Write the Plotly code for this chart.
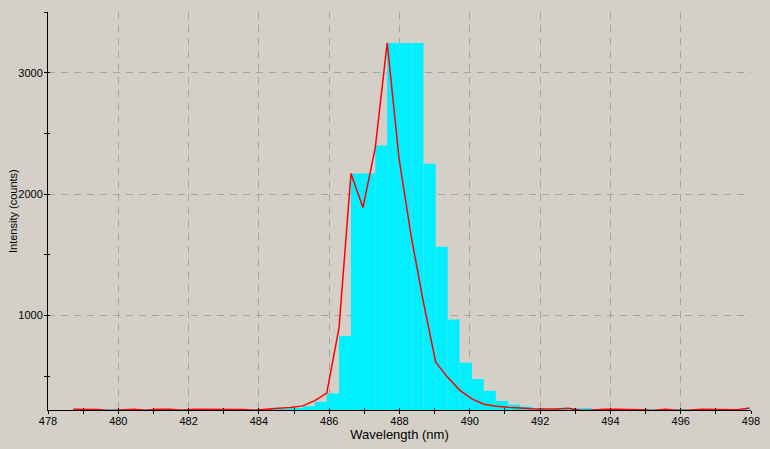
import numpy as np
import plotly.graph_objects as go

# ---- data ----
wavelength_nm = [
    478.72, 479.06, 479.41, 479.75, 480.09, 480.44, 480.78, 481.12, 481.47, 481.81,
    482.16, 482.50, 482.84, 483.19, 483.53, 483.87, 484.22, 484.56, 484.90, 485.25,
    485.59, 485.93, 486.28, 486.62, 486.96, 487.31, 487.65, 487.99, 488.34, 488.68,
    489.03, 489.37, 489.71, 490.06, 490.40, 490.74, 491.09, 491.43, 491.77, 492.12,
    492.46, 492.80, 493.15, 493.49, 493.83, 494.18, 494.52, 494.86, 495.21, 495.55,
    495.90, 496.24, 496.58, 496.93, 497.27, 497.61, 497.96,
]

line_counts = [
    228, 228, 226, 216, 222, 228, 218, 228, 228, 218,
    228, 228, 228, 228, 226, 218, 229, 235, 242, 255,
    298, 360, 900, 2170, 1889, 2380, 3245, 2285, 1640, 1110,
    615, 490, 385, 312, 268, 252, 243, 236, 232, 229,
    229, 236, 218, 220, 228, 228, 228, 224, 216, 228,
    218, 218, 228, 228, 228, 224, 238,
]

bar_counts = [
    227, 227, 227, 227, 227, 227, 227, 227, 227, 227,
    227, 227, 227, 227, 227, 227, 228, 230, 238, 253,
    289, 358, 830, 2170, 2170, 2400, 3245, 3245, 3245, 2250,
    1565, 967, 610, 476, 379, 295, 264, 248, 234, 228,
    232, 236, 236, 226, 226, 226, 226, 228, 226, 226,
    228, 226, 226, 226, 228, 226, 226,
]

x_range = [478, 498]
y_range = [221, 3500]
x_major_step = 2
x_minor_step = 1
y_major_step = 1000
y_minor_step = 500

x_title = "Wavelength (nm)"
y_title = "Intensity (counts)"

# ---- figure ----
W, H = 770, 449
M = dict(l=48, r=19, t=12, b=39)
bg = "#D4D0C8"
grid = "#A4A4A4"
font = dict(family="Liberation Sans, Arial, sans-serif", size=11, color="black")

widths = np.diff(wavelength_nm).tolist()
widths.append(widths[-1])

fig = go.Figure()
fig.add_bar(
    x=wavelength_nm, y=bar_counts, width=widths, offset=0,
    marker=dict(color="#00F0FF", line=dict(width=0)),
    hoverinfo="skip",
)
fig.add_scatter(
    x=wavelength_nm, y=line_counts, mode="lines",
    line=dict(color="#FF0000", width=1.5),
    hoverinfo="skip",
)
# empty trace for overlay axes that draw the inner half of the ticks
fig.add_scatter(x=[], y=[], xaxis="x2", yaxis="y2", hoverinfo="skip")

plot_w = W - M["l"] - M["r"]

fig.update_layout(
    width=W, height=H,
    margin=M,
    paper_bgcolor=bg, plot_bgcolor=bg,
    showlegend=False, font=font,
    xaxis=dict(
        range=x_range, tickmode="linear", tick0=x_range[0], dtick=x_major_step,
        ticks="outside", ticklen=3, tickcolor="black", tickwidth=1,
        ticklabelstandoff=-2,
        showline=True, linecolor="black", linewidth=1,
        showgrid=True, gridcolor=grid, gridwidth=1, griddash="7px,6px",
        zeroline=False,
        minor=dict(tick0=x_range[0], dtick=x_minor_step, ticks="outside",
                   ticklen=3, tickcolor="black", tickwidth=1, showgrid=False),
        title=dict(text=x_title, standoff=2),
        automargin=False, fixedrange=True,
    ),
    yaxis=dict(
        range=y_range, tickmode="linear", tick0=0, dtick=y_major_step,
        ticks="outside", ticklen=3, tickcolor="black", tickwidth=1,
        ticklabelstandoff=-1,
        showline=True, linecolor="black", linewidth=1,
        showgrid=True, gridcolor=grid, gridwidth=1, griddash="7px,6px",
        zeroline=False,
        minor=dict(tick0=0, dtick=y_minor_step, ticks="outside",
                   ticklen=3, tickcolor="black", tickwidth=1, showgrid=False),
        automargin=False, fixedrange=True,
    ),
    xaxis2=dict(
        range=x_range, overlaying="x", anchor="y2", tickmode="linear",
        tick0=x_range[0], dtick=x_minor_step, ticks="inside", ticklen=2,
        tickcolor="black", showticklabels=False, showgrid=False,
        showline=False, zeroline=False, fixedrange=True,
    ),
    yaxis2=dict(
        range=y_range, overlaying="y", anchor="x2", side="left", tickmode="linear",
        tick0=0, dtick=y_minor_step, ticks="inside", ticklen=2,
        tickcolor="black", showticklabels=False, showgrid=False,
        showline=False, zeroline=False, fixedrange=True,
    ),
    annotations=[dict(
        text=y_title, textangle=-90, showarrow=False,
        xref="paper", yref="paper", x=(13 - M["l"]) / plot_w, y=0.5,
        xanchor="center", yanchor="middle", font=font,
    )],
)

fig.write_html(
    "out.html",
    config={"displayModeBar": False, "staticPlot": True},
    post_script="document.body.style.margin='0';document.body.style.padding='0';"
                "document.body.style.background='#D4D0C8';"
                "document.documentElement.style.overflow='hidden';",
)
